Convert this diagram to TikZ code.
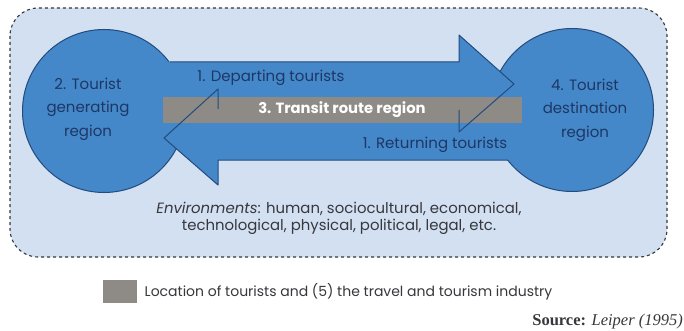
\documentclass[tikz,border=0pt]{standalone}
\usepackage{fontspec}
\usetikzlibrary{positioning}
\newfontfamily\geofont{Poppins}
\newfontfamily\srcfont{Liberation Serif}
\definecolor{regionblue}{RGB}{68,136,202}
\definecolor{edgeblue}{RGB}{35,75,125}
\definecolor{panelblue}{RGB}{210,224,242}
\definecolor{routegray}{RGB}{142,138,134}
\definecolor{labelblue}{RGB}{30,55,100}
\definecolor{inkgray}{RGB}{55,55,60}
\begin{document}
\begin{tikzpicture}[x=1pt,y=-1pt,line join=round,
  panel/.style={fill=panelblue,draw=inkgray,dashed,line width=1.1pt,rounded corners=28pt},
  region/.style={circle,fill=regionblue,draw=edgeblue,line width=1pt,minimum size=163pt,inner sep=0pt},
  outline/.style={draw=edgeblue,line width=1pt},
  regiontext/.style={font=\geofont\fontsize{15}{23.5}\selectfont,text=labelblue,align=center},
  flowtext/.style={font=\geofont\fontsize{15}{17}\selectfont,text=labelblue},
  routebar/.style={fill=routegray,minimum width=359pt,minimum height=26pt,inner sep=0pt,
    font=\geofont\bfseries\fontsize{14.8}{17}\selectfont,text=white},
  envtext/.style={font=\geofont\fontsize{14.9}{17}\selectfont,text=inkgray,align=center}]
	\useasboundingbox (0,0) rectangle (684,331);
	\draw [panel] (10,8) rectangle (667,257);

	% the two regions
	\node [region] (gen) at (104,111) {};
	\node [region] (dest) at (572,110) {};

	% the two flows
	\fill [regionblue] (150,62) -- (459,62) -- (459,35) -- (514,84) -- (459,132) -- (459,108) -- (150,108) -- cycle;
	\fill [regionblue] (530,108) -- (218,108) -- (218,89) -- (164,138) -- (218,185) -- (218,160) -- (530,160) -- cycle;

	\node [routebar] (route) at (342,110) {3. Transit route region};

	\draw [outline] (170,62) -- (459,62) -- (459,35) -- (514,84) -- (459,132) -- (459,110);
	\draw [outline] (508,160) -- (218,160) -- (218,185) -- (164,138) -- (218,89) -- (218,109);

	\node [regiontext] (gentext) at (88,109) {2. Tourist\\generating\\region};
	\node [regiontext] (desttext) at (585,110) {4. Tourist\\destination\\region};
	\node [flowtext] (depart) at (271,78) {1. Departing tourists};
	\node [flowtext] (return) at (435,145) {1. Returning tourists};

	\node [envtext] (env) at (339,218) {\textit{Environments}: human, sociocultural, economical,\\technological, physical, political, legal, etc.};

	% key and source
	\node [fill=routegray,minimum width=34pt,minimum height=23pt,inner sep=0pt] (key) at (120,291.5) {};
	\node [right=4pt of key,font=\geofont\fontsize{14}{17}\selectfont,text=inkgray] (keytext) {Location of tourists and (5) the travel and tourism industry};
	\node [anchor=east,inner sep=0pt,font=\srcfont\fontsize{16.5}{19}\selectfont,text=inkgray] (source) at (683,322) {\textbf{Source:} \textit{Leiper (1995)}};
\end{tikzpicture}
\end{document}
